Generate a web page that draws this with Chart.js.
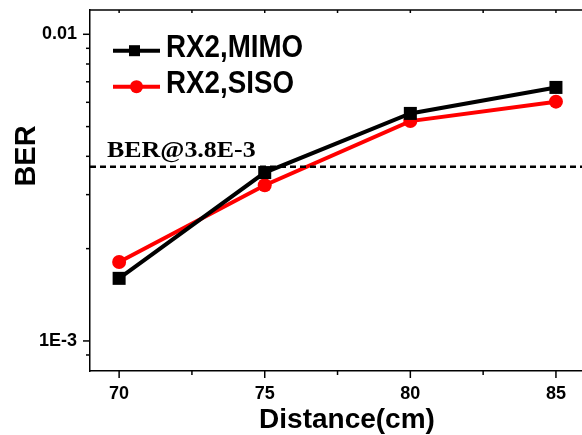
<!DOCTYPE html>
<html>
<head>
<meta charset="utf-8">
<script src="https://cdn.jsdelivr.net/npm/chart.js@4/dist/chart.umd.min.js"></script>
<style>
  html, body { margin: 0; padding: 0; background: #fff; overflow: hidden; }
  #wrap { width: 604px; height: 435px; }
</style>
</head>
<body>
<div id="wrap"><canvas id="berChart" width="604" height="435"></canvas></div>
<script>
// distance in cm
const distances = [70, 75, 80, 85];
// BER
const berMimo = [0.0016, 0.00354, 0.00552, 0.00671];
const berSiso = [0.00181, 0.00322, 0.00521, 0.00603];
const seriesLabels = ['RX2,MIMO', 'RX2,SISO'];
const seriesColors = ['#000000', '#ff0000'];

// FEC limit line
const berLimit = 0.0037;
const berLimitLabel = 'BER@3.8E-3';

// tick lists
const xMajorTicks = [70, 75, 80, 85];
const xMinorTicks = [72.5, 77.5, 82.5];
const yMajorTicks = [0.001, 0.01];
const yMajorLabels = ['1E-3', '0.01'];
const yMinorTicks = [0.0009, 0.002, 0.003, 0.004, 0.005, 0.006, 0.007, 0.008, 0.009];

const FONT = '"Liberation Sans", Arial, sans-serif';
const SERIF = '"Liberation Serif", "Times New Roman", serif';

function line(ctx, x1, y1, x2, y2) {
    ctx.beginPath();
    ctx.moveTo(x1, y1);
    ctx.lineTo(x2, y2);
    ctx.stroke();
}

// no extra room for tick labels, the plot box is fixed
function noPad(s) {
    s.paddingTop = 0;
    s.paddingBottom = 0;
    s.paddingLeft = 0;
    s.paddingRight = 0;
}

// ticks, top frame, limit line, legend and y title
const decorPlugin = {
    id: 'decor',
    afterDatasetsDraw(chart) {
        const ctx = chart.ctx;
        const xs = chart.scales.x;
        const ys = chart.scales.y;
        const area = chart.chartArea;

        ctx.save();
        ctx.strokeStyle = '#000';
        ctx.lineWidth = 1.5;
        line(ctx, area.left, area.top, area.right, area.top);

        xMajorTicks.forEach(v => {
            const px = xs.getPixelForValue(v);
            line(ctx, px, area.bottom, px, area.bottom + 7);
            line(ctx, px, area.top, px, area.top + 3);
        });
        xMinorTicks.forEach(v => {
            const px = xs.getPixelForValue(v);
            line(ctx, px, area.bottom, px, area.bottom + 4);
            line(ctx, px, area.top, px, area.top + 3);
        });
        yMajorTicks.forEach(v => {
            const py = ys.getPixelForValue(v);
            line(ctx, area.left - 7, py, area.left, py);
        });
        yMinorTicks.forEach(v => {
            const py = ys.getPixelForValue(v);
            line(ctx, area.left - 4, py, area.left, py);
        });

        // limit line
        const ly = ys.getPixelForValue(berLimit);
        ctx.lineWidth = 2.5;
        ctx.setLineDash([6, 4]);
        line(ctx, area.left, ly, area.right, ly);
        ctx.setLineDash([]);

        ctx.fillStyle = '#000';
        ctx.font = 'bold 24px ' + SERIF;
        ctx.textAlign = 'left';
        ctx.textBaseline = 'alphabetic';
        ctx.save();
        ctx.translate(area.left + 17, ly - 10);
        ctx.scale(1.08, 1);
        ctx.fillText(berLimitLabel, 0, 0);
        ctx.restore();

        // legend
        const legendRows = [50.7, 86.7];
        chart.data.datasets.forEach((ds, i) => {
            const y = legendRows[i];
            ctx.strokeStyle = ds.borderColor;
            ctx.fillStyle = ds.backgroundColor;
            ctx.lineWidth = 4;
            line(ctx, 113, y, 160, y);
            if (ds.pointStyle === 'rect') {
                ctx.fillRect(134.5 - 5.5, y - 5.5, 11, 11);
            } else {
                ctx.beginPath();
                ctx.arc(136.5, y, 6.5, 0, Math.PI * 2);
                ctx.fill();
            }
            ctx.fillStyle = '#000';
            ctx.font = 'bold 31px ' + FONT;
            ctx.save();
            ctx.translate(166, y + 6.5);
            ctx.scale(0.895, 1);
            ctx.fillText(ds.label, 0, 0);
            ctx.restore();
        });

        // y title
        ctx.save();
        ctx.translate(26.5, 156);
        ctx.rotate(-Math.PI / 2);
        ctx.font = 'bold 29px ' + FONT;
        ctx.textAlign = 'center';
        ctx.textBaseline = 'middle';
        ctx.fillStyle = '#000';
        ctx.fillText('BER', 0, 0);
        ctx.restore();

        ctx.restore();
    }
};

new Chart(document.getElementById('berChart'), {
    type: 'line',
    data: {
        labels: distances,
        datasets: [{
            label: seriesLabels[0],
            data: distances.map((d, i) => ({ x: d, y: berMimo[i] })),
            borderColor: seriesColors[0],
            backgroundColor: seriesColors[0],
            borderWidth: 4,
            pointStyle: 'rect',
            pointRadius: 9.2,
            pointBorderWidth: 0
        }, {
            label: seriesLabels[1],
            data: distances.map((d, i) => ({ x: d, y: berSiso[i] })),
            borderColor: seriesColors[1],
            backgroundColor: seriesColors[1],
            borderWidth: 4,
            pointStyle: 'circle',
            pointRadius: 7,
            pointBorderWidth: 0
        }]
    },
    options: {
        responsive: false,
        animation: false,
        layout: { autoPadding: false, padding: { top: 10, left: 0, right: 0, bottom: 0 } },
        plugins: {
            legend: { display: false },
            tooltip: { enabled: false }
        },
        scales: {
            x: {
                type: 'linear',
                min: 69,
                max: 86.65,
                afterFit: s => { s.height = 64; noPad(s); },
                afterBuildTicks: s => { s.ticks = xMajorTicks.map(v => ({ value: v })); },
                grid: { display: false, drawTicks: false },
                border: { display: true, color: '#000', width: 1.5 },
                ticks: {
                    autoSkip: false,
                    maxRotation: 0,
                    padding: 12,
                    color: '#000',
                    font: { family: FONT, size: 18, weight: 'bold' }
                },
                title: {
                    display: true,
                    text: 'Distance(cm)',
                    color: '#000',
                    padding: { top: 0, bottom: -2 },
                    font: { family: FONT, size: 28, weight: 'bold' }
                }
            },
            y: {
                type: 'logarithmic',
                min: 0.000798,
                max: 0.012,
                afterFit: s => { s.width = 90; noPad(s); },
                afterBuildTicks: s => { s.ticks = yMajorTicks.map(v => ({ value: v })); },
                grid: { display: false, drawTicks: false },
                border: { display: true, color: '#000', width: 1.5 },
                ticks: {
                    padding: 13,
                    color: '#000',
                    font: { family: FONT, size: 18, weight: 'bold' },
                    callback: v => {
                        const i = yMajorTicks.findIndex(t => Math.abs(t - v) < 1e-9);
                        return i >= 0 ? yMajorLabels[i] : '';
                    }
                }
            }
        }
    },
    plugins: [decorPlugin]
});
</script>
</body>
</html>
